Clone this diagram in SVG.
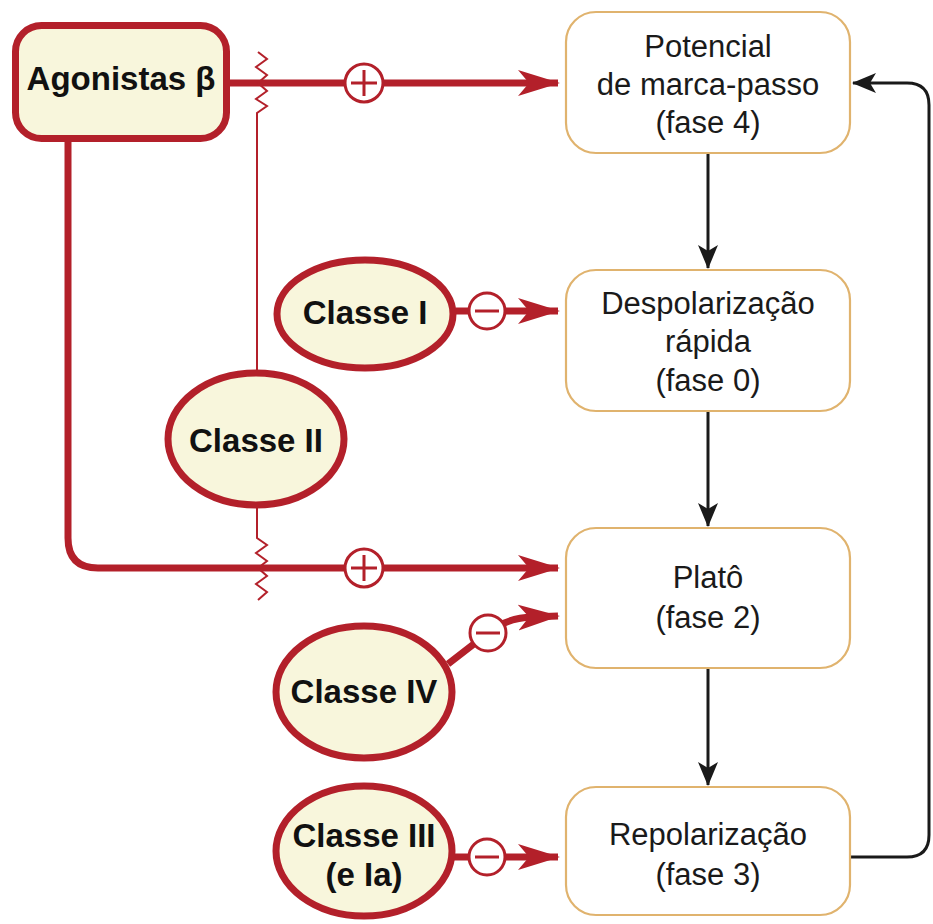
<svg xmlns="http://www.w3.org/2000/svg" width="933" height="924" viewBox="0 0 933 924">
<defs>
<style>
.red{fill:none;stroke:#b3202a;stroke-width:7}
.thin{fill:none;stroke:#b3202a;stroke-width:2}
.node{fill:#f8f6dc;stroke:#b3202a;stroke-width:7}
.box{fill:#ffffff;stroke:#e0b36e;stroke-width:2.2}
.blk{fill:none;stroke:#1a1a1a;stroke-width:3}
.sign{fill:#ffffff;stroke:#b3202a;stroke-width:3}
.bt{font-family:"Liberation Sans",Arial,sans-serif;font-weight:bold;font-size:33px;fill:#111;text-anchor:middle}
.rt{font-family:"Liberation Sans",Arial,sans-serif;font-size:31px;fill:#1a1a1a;text-anchor:middle}
</style>
<marker id="ra" viewBox="0 0 42 28" refX="40" refY="14" markerWidth="42" markerHeight="28" markerUnits="userSpaceOnUse" orient="auto">
<path d="M0,1 L42,14 L0,27 L11,14 Z" fill="#b3202a"/>
</marker>
<marker id="ba" viewBox="0 0 24 22" refX="23" refY="11" markerWidth="24" markerHeight="22" markerUnits="userSpaceOnUse" orient="auto">
<path d="M0,1 L24,11 L0,21 L6,11 Z" fill="#1a1a1a"/>
</marker>
</defs>
<rect width="933" height="924" fill="#ffffff"/>

<g id="connectors">
<path class="red" d="M228,83 L558,83" marker-end="url(#ra)"/>
<path class="red" d="M68,140 L68,538 Q68,568 98,568 L558,568" marker-end="url(#ra)"/>
<polyline class="thin" points="258,52 267,59 256,67 267,75 258,83 267,91 256,99 267,106 257,113 257,372"/>
<polyline class="thin" points="257,508 257,538 267,545 256,553 267,561 258,568 267,576 256,584 267,592 258,600"/>
<path class="red" d="M456,311 L558,311" marker-end="url(#ra)"/>
<path class="red" d="M448,664 L488,633 Q506,618 532,617 L558,616" marker-end="url(#ra)"/>
<path class="red" d="M452,857 L558,857" marker-end="url(#ra)"/>
<circle class="sign" cx="364" cy="83" r="19"/>
<path d="M351,83 H377 M364,70 V96" stroke="#b3202a" stroke-width="3"/>
<circle class="sign" cx="364" cy="568" r="19"/>
<path d="M351,568 H377 M364,555 V581" stroke="#b3202a" stroke-width="3"/>
<circle class="sign" cx="487" cy="311" r="18"/>
<path d="M475,311 H499" stroke="#b3202a" stroke-width="3"/>
<circle class="sign" cx="488" cy="633" r="18"/>
<path d="M476,633 H500" stroke="#b3202a" stroke-width="3"/>
<circle class="sign" cx="487" cy="857" r="18"/>
<path d="M475,857 H499" stroke="#b3202a" stroke-width="3"/>
<path class="blk" d="M708,153 L708,268" marker-end="url(#ba)"/>
<path class="blk" d="M708,411 L708,526" marker-end="url(#ba)"/>
<path class="blk" d="M708,668 L708,785" marker-end="url(#ba)"/>
<path class="blk" d="M850,857 L907,857 Q929,857 929,835 L929,105 Q929,83 907,83 L853,83" marker-end="url(#ba)"/>
</g>

<g id="agonistas">
<rect class="node" x="15.5" y="25.5" width="211" height="113" rx="26"/>
<text class="bt" x="121" y="90">Agonistas β</text>
</g>

<g id="classe1">
<ellipse class="node" cx="365" cy="314" rx="88" ry="54"/>
<text class="bt" x="365" y="324">Classe I</text>
</g>
<g id="classe2">
<ellipse class="node" cx="256" cy="439" rx="88" ry="66"/>
<text class="bt" x="256" y="452">Classe II</text>
</g>
<g id="classe4">
<ellipse class="node" cx="364" cy="692" rx="88" ry="66"/>
<text class="bt" x="364" y="703">Classe IV</text>
</g>
<g id="classe3">
<ellipse class="node" cx="364" cy="851" rx="88" ry="65"/>
<text class="bt" x="364" y="847">Classe III</text>
<text class="bt" x="364" y="886">(e Ia)</text>
</g>

<g id="fase4">
<rect class="box" x="566" y="12" width="284" height="141" rx="30"/>
<text class="rt" x="708" y="57">Potencial</text>
<text class="rt" x="708" y="95">de marca-passo</text>
<text class="rt" x="708" y="133">(fase 4)</text>
</g>
<g id="fase0">
<rect class="box" x="566" y="270" width="284" height="141" rx="30"/>
<text class="rt" x="708" y="314">Despolarização</text>
<text class="rt" x="708" y="352">rápida</text>
<text class="rt" x="708" y="391">(fase 0)</text>
</g>
<g id="fase2">
<rect class="box" x="566" y="528" width="284" height="140" rx="30"/>
<text class="rt" x="708" y="588">Platô</text>
<text class="rt" x="708" y="628">(fase 2)</text>
</g>
<g id="fase3">
<rect class="box" x="566" y="787" width="284" height="128" rx="30"/>
<text class="rt" x="708" y="845">Repolarização</text>
<text class="rt" x="708" y="885">(fase 3)</text>
</g>
</svg>
